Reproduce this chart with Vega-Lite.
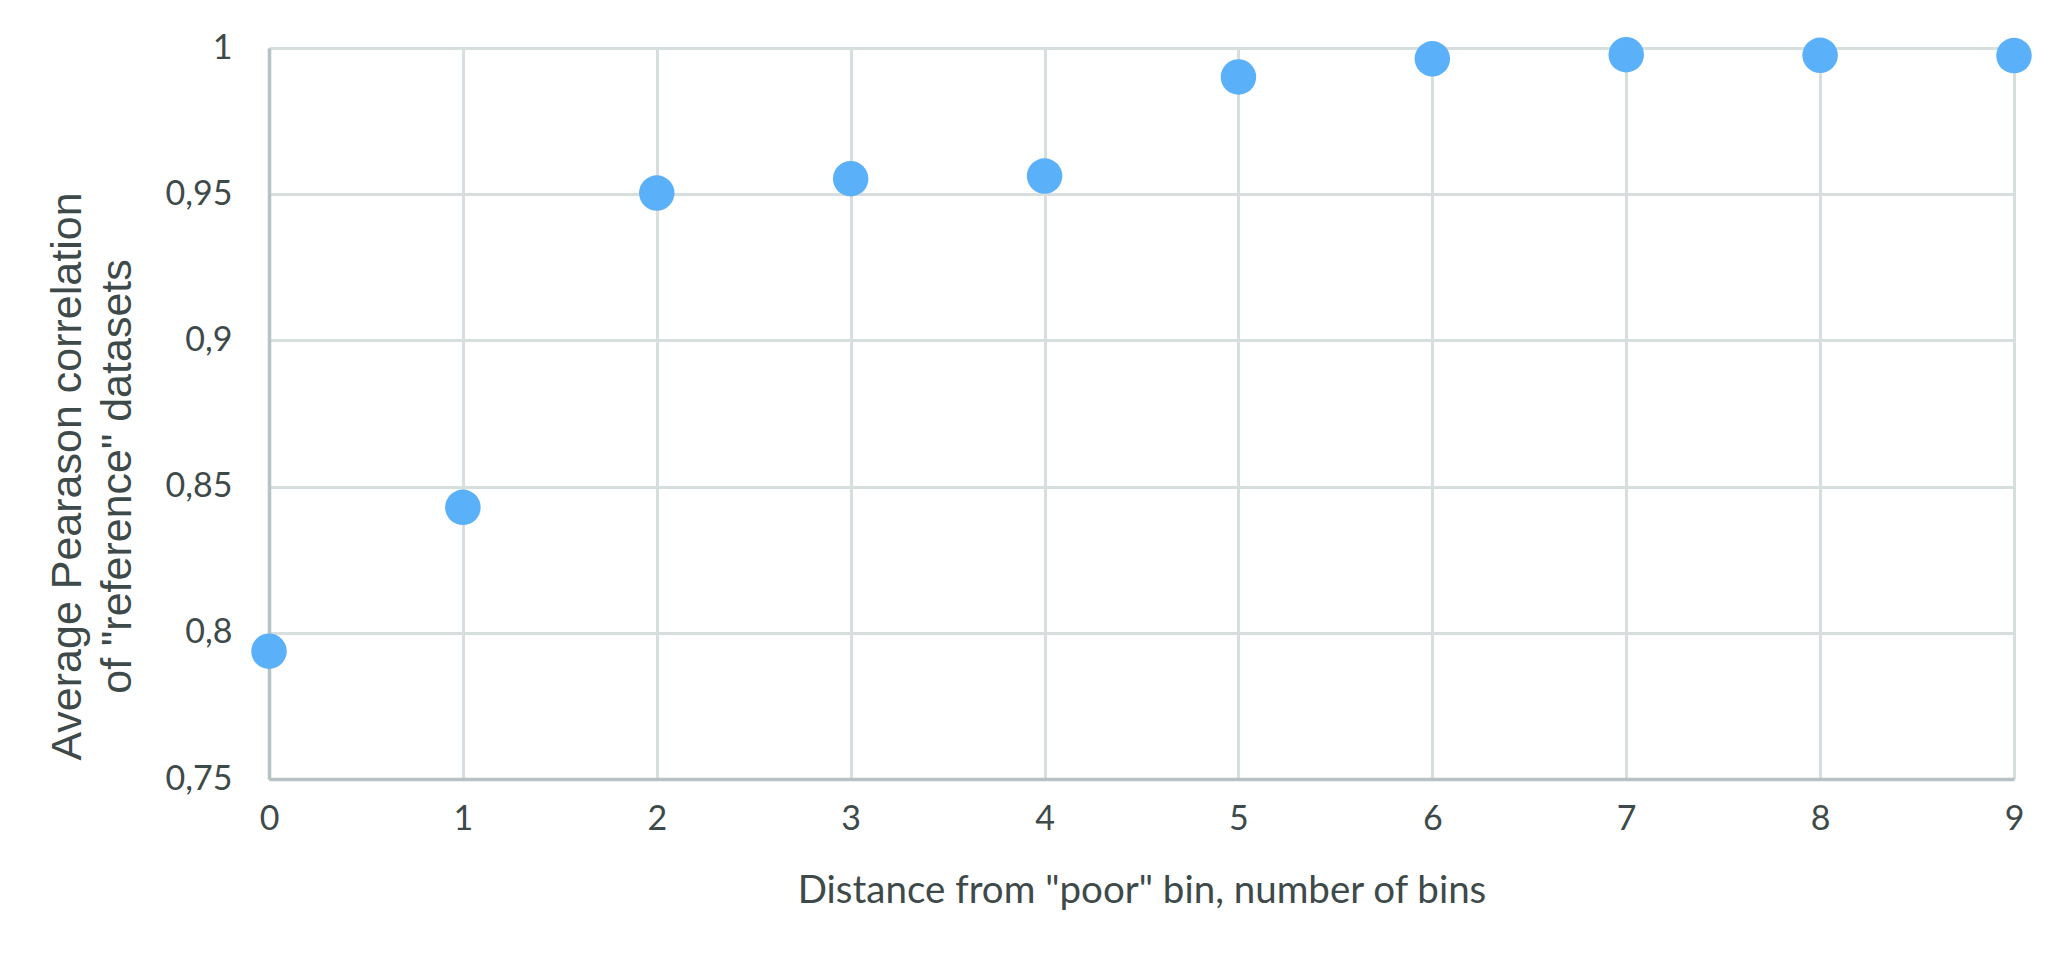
{
  "$schema": "https://vega.github.io/schema/vega-lite/v6.json",
  "width": 1745,
  "height": 731,
  "autosize": {"type": "none"},
  "padding": {"left": 269, "top": 48, "right": 57, "bottom": 187},
  "background": "#ffffff",
  "config": {
    "view": {"stroke": null},
    "axis": {
      "labelFont": "Lato",
      "labelColor": "#3e4a4a",
      "titleColor": "#3e4a4a",
      "gridColor": "#d7dfde",
      "gridWidth": 3,
      "gridOpacity": 1,
      "domainColor": "#b7c3c2",
      "domainWidth": 3.5,
      "ticks": false,
      "tickSize": 0
    }
  },
  "data": {
    "values": [
      {"distance": 0, "correlation": 0.7937},
      {"distance": 1, "correlation": 0.8429},
      {"distance": 2, "correlation": 0.9504},
      {"distance": 3, "correlation": 0.9553},
      {"distance": 4, "correlation": 0.9562},
      {"distance": 5, "correlation": 0.9901},
      {"distance": 6, "correlation": 0.9963},
      {"distance": 7, "correlation": 0.9977},
      {"distance": 8, "correlation": 0.9975},
      {"distance": 9, "correlation": 0.9974}
    ]
  },
  "mark": {"type": "circle", "size": 1260, "opacity": 1, "color": "#5ab1fa", "clip": false},
  "encoding": {
    "x": {
      "field": "distance",
      "type": "quantitative",
      "scale": {"domain": [0, 9], "nice": false, "zero": false},
      "axis": {
        "values": [0, 1, 2, 3, 4, 5, 6, 7, 8, 9],
        "format": "d",
        "title": "Distance from \"poor\" bin, number of bins",
        "titleFont": "Lato",
        "titleFontSize": 38.5,
        "titleFontWeight": "normal",
        "titleY": 111,
        "titleBaseline": "middle",
        "labelFontSize": 34,
        "labelBaseline": "middle",
        "labelPadding": 40,
        "labelFlush": false
      }
    },
    "y": {
      "field": "correlation",
      "type": "quantitative",
      "scale": {"domain": [0.75, 1], "nice": false, "zero": false},
      "axis": {
        "values": [0.75, 0.8, 0.85, 0.9, 0.95, 1],
        "labelExpr": "replace(format(datum.value, '.2~f'), '.', ',')",
        "title": ["Average Pearason correlation", "of \"reference\" datasets"],
        "titleFont": "Liberation Sans",
        "titleFontSize": 43,
        "titleFontWeight": "normal",
        "titleLineHeight": 50,
        "titleX": -202,
        "titleY": 428,
        "titleAlign": "center",
        "titleBaseline": "middle",
        "titleAngle": -90,
        "labelFontSize": 34,
        "labelPadding": 37,
        "labelBaseline": "middle",
        "labelFlush": false
      }
    }
  }
}
